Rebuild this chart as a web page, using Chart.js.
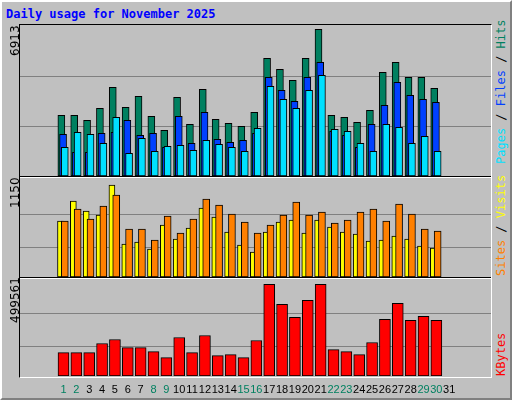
<!DOCTYPE html>
<html>
<head>
<meta charset="utf-8">
<script src="https://cdn.jsdelivr.net/npm/chart.js@4"></script>
<style>
  body { margin: 0; width: 512px; height: 400px; overflow: hidden; background: #c0c0c0; font-family: "DejaVu Sans", sans-serif; }
  #frame { position: absolute; left: 0; top: 0; width: 508px; height: 396px; border-top: 2px solid #fff; border-left: 2px solid #fff; border-right: 2px solid #808080; border-bottom: 2px solid #808080; }
  #title { position: absolute; left: 6px; top: 7px; font: bold 12px "DejaVu Sans Mono", monospace; color: #0000ff; }
  #plot { position: absolute; left: 19px; top: 24px; width: 471px; height: 352px; border-top: 1px solid #000; border-left: 1px solid #000; border-right: 1px solid #fff; border-bottom: 1px solid #fff; }
  .sep { position: absolute; left: 20px; width: 471px; height: 1px; background: #000; border-bottom: 1px solid #fff; }
  canvas { position: absolute; }
  .vl { position: absolute; transform-origin: left top; transform: rotate(-90deg); white-space: nowrap; font: 12px "DejaVu Sans", sans-serif; }
  .vr { position: absolute; transform-origin: left top; transform: rotate(-90deg); white-space: nowrap; font: 12px "DejaVu Sans Mono", monospace; }
</style>
</head>
<body>
<div id="frame"></div>
<div id="title">Daily usage for November 2025</div>
<div id="plot"></div>
<div class="sep" style="top:176px"></div>
<div class="sep" style="top:277px"></div>
<canvas id="c1" style="left:20px;top:26px" width="471" height="150"></canvas>
<canvas id="c2" style="left:20px;top:178px" width="471" height="99"></canvas>
<canvas id="c3" style="left:20px;top:280px" width="471" height="118"></canvas>
<div class="vl" style="left:8px;top:56px">6913</div>
<div class="vl" style="left:8px;top:208px">1150</div>
<div class="vl" style="left:8px;top:323px">499561</div>
<div class="vr" style="left:494px;top:164px"><span style="color:#00e0ff">Pages</span> / <span style="color:#0040ff">Files</span> / <span style="color:#008060">Hits</span></div>
<div class="vr" style="left:494px;top:276px"><span style="color:#ff8000">Sites</span> / <span style="color:#ffff00">Visits</span></div>
<div class="vr" style="left:494px;top:376px"><span style="color:#ff0000">KBytes</span></div>
<script>
const days = [1,2,3,4,5,6,7,8,9,10,11,12,13,14,15,16,17,18,19,20,21,22,23,24,25,26,27,28,29,30,31];
const weekend = [1,2,8,9,15,16,22,23,29,30];
const hits = [2796,2796,2565,3119,4086,3165,3672,2750,2105,3626,2381,3994,2612,2427,2289,2934,5423,4916,4409,5423,6760,2796,2704,2473,3026,4778,5239,4547,4547,4040,0];
const files = [1920,1091,1091,1966,2012,2565,1874,1966,1321,2750,1505,2934,1690,1552,1644,1966,4547,3948,3441,4547,5239,2059,1874,1321,2381,3257,4317,3718,3533,3395,0];
const pages = [1321,2012,1920,1505,2704,1045,1736,1137,1367,1413,1183,1644,1459,1321,1137,2197,4132,3533,3119,3948,4640,2151,2059,1505,1137,2381,2243,1505,1828,1137,0];
const visits = [650,883,767,720,1069,383,407,325,604,441,569,801,697,523,372,290,523,639,662,511,662,581,523,499,418,430,476,441,360,337,0];
const sites = [650,790,674,825,953,558,558,430,709,511,674,906,836,732,639,511,604,720,871,720,755,627,662,755,790,650,848,732,558,534,0];
const kbytes = [127600,127600,127600,176900,198700,155000,155000,133100,100300,209700,127600,220600,111200,116700,100300,193300,499561,390200,319100,412000,499561,144000,133100,116700,182300,308100,395600,302700,324500,302700,0];

const SPAN = 31.4;
function xAxis(min) { return { type: 'linear', display: false, min: min, max: min + SPAN }; }
function pts(vals) { return days.map((d, i) => ({ x: d, y: vals[i] })); }
function ds(label, vals, color, axis, order, w) {
  return { label, data: pts(vals), backgroundColor: color, borderColor: '#000', borderWidth: 1,
           borderSkipped: false, xAxisID: axis, order, barThickness: w, grouped: false };
}
const gridPlugin = {
  id: 'grid',
  beforeDatasetsDraw(chart, args, opts) {
    const a = chart.chartArea, ctx = chart.ctx;
    ctx.save();
    ctx.strokeStyle = '#808080';
    ctx.lineWidth = 1;
    opts.fr.forEach(f => {
      const y = Math.round(a.bottom - f * (a.bottom - a.top)) + 0.5;
      ctx.beginPath(); ctx.moveTo(a.left, y); ctx.lineTo(a.right, y); ctx.stroke();
    });
    ctx.restore();
  }
};
const labelPlugin = {
  id: 'daylabels',
  afterDraw(chart) {
    const sc = chart.scales.x1, ctx = chart.ctx;
    ctx.save();
    ctx.font = '11px "Liberation Sans", sans-serif';
    ctx.textAlign = 'center';
    days.forEach(d => {
      ctx.fillStyle = weekend.includes(d) ? '#008060' : '#000';
      ctx.fillText(String(d), sc.getPixelForValue(d), chart.chartArea.bottom + 17);
    });
    ctx.restore();
  }
};
function base(ymax, fr, padBottom) {
  return {
    responsive: false, animation: false, events: [],
    layout: { padding: { bottom: padBottom || 0 } },
    plugins: { legend: { display: false }, tooltip: { enabled: false }, grid: { fr } },
    scales: { y: { display: false, min: 0, max: ymax } }
  };
}
Chart.register(gridPlugin);

const o1 = base(6913, [1/3, 2/3]);
Object.assign(o1.scales, { x1: xAxis(0.4), x2: xAxis(0.267), x3: xAxis(0.133) });
new Chart(document.getElementById('c1'), {
  type: 'bar',
  data: { datasets: [
    ds('Hits', hits, '#008060', 'x1', 3, 7),
    ds('Files', files, '#0040ff', 'x2', 2, 7),
    ds('Pages', pages, '#00e0ff', 'x3', 1, 7)
  ] },
  options: o1
});

const o2 = base(1150, [30/99, 63/99]);
Object.assign(o2.scales, { x1: xAxis(0.467), x2: xAxis(0.133) });
new Chart(document.getElementById('c2'), {
  type: 'bar',
  data: { datasets: [
    ds('Visits', visits, '#ffff00', 'x1', 2, 6),
    ds('Sites', sites, '#ff8000', 'x2', 1, 7)
  ] },
  options: o2
});

const o3 = base(523000, [30/96, 63/96], 22);
Object.assign(o3.scales, { x1: xAxis(0.233) });
new Chart(document.getElementById('c3'), {
  type: 'bar',
  data: { datasets: [ ds('KBytes', kbytes, '#ff0000', 'x1', 1, 11) ] },
  options: o3,
  plugins: [labelPlugin]
});
</script>
</body>
</html>
